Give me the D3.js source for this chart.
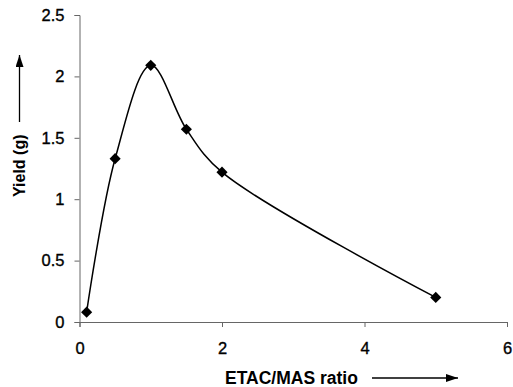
<!DOCTYPE html>
<html><head><meta charset="utf-8">
<script src="https://cdn.jsdelivr.net/npm/d3@7"></script>
<style>body{margin:0;background:#fff}svg{display:block}</style>
</head><body>
<script>
const ratios = [0.1, 0.5, 1, 1.5, 2, 5];
const yields = [0.08, 1.33, 2.09, 1.57, 1.22, 0.2];
const xTicks = [0, 2, 4, 6];
const yTicks = [0, 0.5, 1, 1.5, 2, 2.5];
const xTitle = "ETAC/MAS ratio";
const yTitle = "Yield (g)";

const W = 513, H = 387;
const svg = d3.select("body").append("svg").attr("width", W).attr("height", H);
const x = d3.scaleLinear().domain([0, 6]).range([79.5, 507]);
const y = d3.scaleLinear().domain([0, 2.5]).range([322, 15]);
const font = "Liberation Sans, Arial, sans-serif";

const defs = svg.append("defs");
defs.append("marker").attr("id","ah").attr("viewBox","0 0 12 8").attr("refX",12).attr("refY",4)
  .attr("markerWidth",12).attr("markerHeight",8).attr("markerUnits","userSpaceOnUse").attr("orient","auto")
  .append("path").attr("d","M0,0L12,4L0,8Z").attr("fill","#000");

const xa = svg.append("g").attr("transform","translate(0,322)")
  .call(d3.axisBottom(x).tickValues(xTicks).tickSize(5).tickPadding(15).tickFormat(d3.format("d")));
const ya = svg.append("g").attr("transform","translate(79.5,0)")
  .call(d3.axisLeft(y).tickValues(yTicks).tickSize(5).tickPadding(10).tickFormat(d => d));
[xa, ya].forEach(a => {
  a.select(".domain").attr("stroke","#666");
  a.selectAll(".tick line").attr("stroke","#666");
  a.selectAll("text").attr("font-family",font).attr("font-size",16.5).attr("fill","#000")
    .attr("stroke","#000").attr("stroke-width",0.35);
});

const pts = ratios.map((r,i) => [r, yields[i]]);
svg.append("path").datum(pts)
  .attr("d", d3.line().x(d=>x(d[0])).y(d=>y(d[1])).curve(d3.curveCatmullRom.alpha(0.5)))
  .attr("fill","none").attr("stroke","#000").attr("stroke-width",1.5);

svg.selectAll(".m").data(pts).join("path")
  .attr("d", d3.symbol(d3.symbolSquare, 62)())
  .attr("transform", d => `translate(${x(d[0])},${y(d[1])}) rotate(45)`)
  .attr("fill","#000");

svg.append("text").attr("x",225).attr("y",384).attr("font-family",font).attr("font-weight","bold")
  .attr("font-size",17.5).text(xTitle);
svg.append("line").attr("x1",372).attr("y1",378).attr("x2",458).attr("y2",378)
  .attr("stroke","#000").attr("stroke-width",1.3).attr("marker-end","url(#ah)");

svg.append("text").attr("transform","translate(25,197) rotate(-90)").attr("font-family",font)
  .attr("font-weight","bold").attr("font-size",16).text(yTitle);
svg.append("line").attr("x1",19.5).attr("y1",122).attr("x2",19.5).attr("y2",55)
  .attr("stroke","#000").attr("stroke-width",1.3).attr("marker-end","url(#ah)");
</script>
</body></html>
